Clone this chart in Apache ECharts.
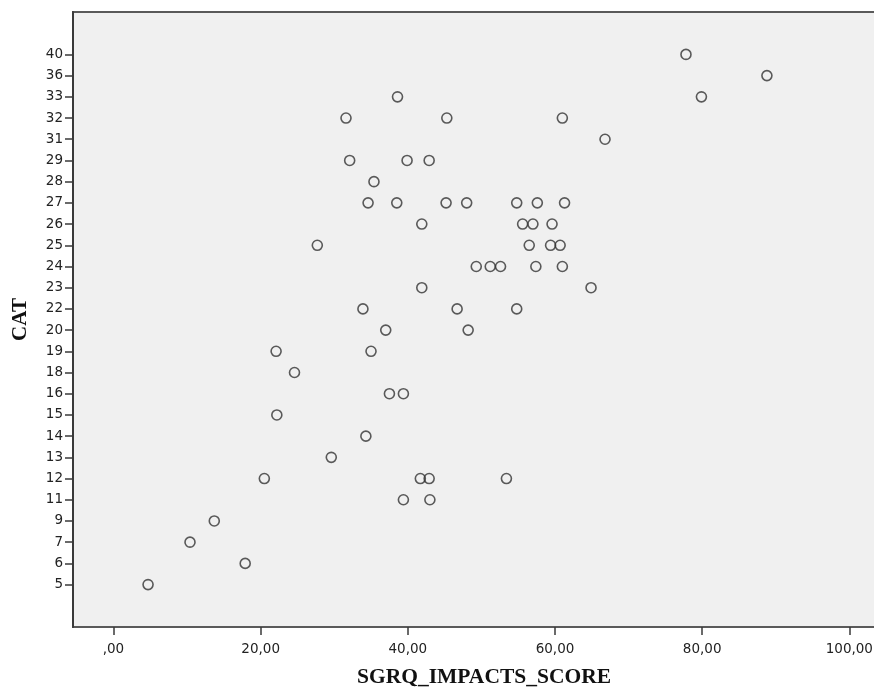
<script src="https://cdn.jsdelivr.net/npm/echarts@6.0.0/dist/echarts.min.js"></script>
<style>
  body { margin: 0; background: #fff; }
</style>
<div id="chart" style="width: 874px; height: 691px;"></div>

<script>
  // CAT categories as SPSS lays them out (evenly spaced, only values present)
  const catLabels = ['5', '6', '7', '9', '11', '12', '13', '14', '15', '16', '18', '19', '20',
    '22', '23', '24', '25', '26', '27', '28', '29', '31', '32', '33', '36', '40'];
  const xTicks = [0, 20, 40, 60, 80, 100];

  // one entry per patient
  const sgrqScore = [
    77.8, 88.8, 38.6, 79.9, 31.6, 45.3, 61.0, 66.8, 32.1, 39.9, 42.9, 35.4,
    34.6, 38.5, 45.2, 48.0, 54.8, 57.6, 61.3,
    41.9, 55.6, 57.0, 59.6,
    27.7, 56.5, 59.4, 60.7,
    49.3, 51.2, 52.6, 57.4, 61.0,
    41.9, 64.9, 33.9, 46.7, 54.8, 37.0, 48.2, 22.1, 35.0, 24.6,
    37.5, 39.4, 22.2, 34.3, 29.6,
    20.5, 41.7, 42.9, 53.4, 39.4, 43.0, 13.7, 10.4, 17.9, 4.7
  ];
  const catScore = [
    40, 36, 33, 33, 32, 32, 32, 31, 29, 29, 29, 28,
    27, 27, 27, 27, 27, 27, 27,
    26, 26, 26, 26,
    25, 25, 25, 25,
    24, 24, 24, 24, 24,
    23, 23, 22, 22, 22, 20, 20, 19, 19, 18,
    16, 16, 15, 14, 13,
    12, 12, 12, 12, 11, 11, 9, 7, 6, 5
  ];

  // two empty slots of padding at each end of the category axis, like SPSS
  const yAxisData = [' ', '  '].concat(catLabels, ['   ', '    ']);
  const points = sgrqScore.map((x, i) => [x, String(catScore[i])]);

  const chart = echarts.init(document.getElementById('chart'), null, { renderer: 'canvas' });

  const axisCol = '#3a3a3a';
  const labelFont = {
    fontFamily: 'DejaVu Sans',
    fontSize: 13.5,
    color: '#222'
  };
  const option = {
    animation: false,
    grid: {
      left: 73, right: -3, top: 12, bottom: 64,
      show: true,
      backgroundColor: '#f0f0f0',
      borderColor: '#5a5a5a',
      borderWidth: 2,
      outerBoundsMode: 'none'
    },
    xAxis: {
      type: 'value',
      min: -5.5,
      max: 103.76,
      name: 'SGRQ_IMPACTS_SCORE',
      nameLocation: 'middle',
      nameGap: 33,
      nameMoveOverlap: false,
      nameTextStyle: {
        fontFamily: 'Liberation Serif',
        fontWeight: 'bold',
        fontSize: 21.5,
        color: '#111',
        padding: [0, 0, 0, 18]
      },
      axisLine: { onZero: false, lineStyle: { color: axisCol, width: 2 } },
      axisTick: {
        show: true,
        inside: false,
        customValues: xTicks,
        length: 8,
        lineStyle: { color: axisCol, width: 1.5 }
      },
      axisLabel: Object.assign({
        customValues: xTicks,
        margin: 9,
        formatter: (v) => (v === 0 ? '' : v) + ',00'
      }, labelFont),
      splitLine: { show: false }
    },
    yAxis: {
      type: 'category',
      data: yAxisData,
      boundaryGap: false,
      name: 'CAT',
      nameLocation: 'middle',
      nameGap: 36,
      nameMoveOverlap: false,
      nameTextStyle: {
        fontFamily: 'Liberation Serif',
        fontWeight: 'bold',
        fontSize: 21,
        color: '#111'
      },
      axisLine: { onZero: false, lineStyle: { color: axisCol, width: 2 } },
      axisTick: {
        interval: (i, v) => v.trim() !== '',
        length: 8,
        lineStyle: { color: axisCol, width: 1.5 }
      },
      axisLabel: Object.assign({
        interval: 0,
        margin: 10
      }, labelFont),
      splitLine: { show: false }
    },
    series: [{
      type: 'scatter',
      data: points,
      symbol: 'circle',
      symbolSize: 10,
      itemStyle: {
        color: 'rgba(0,0,0,0)',
        borderColor: '#333',
        borderWidth: 1.6
      }
    }]
  };
  chart.setOption(option);
</script>
